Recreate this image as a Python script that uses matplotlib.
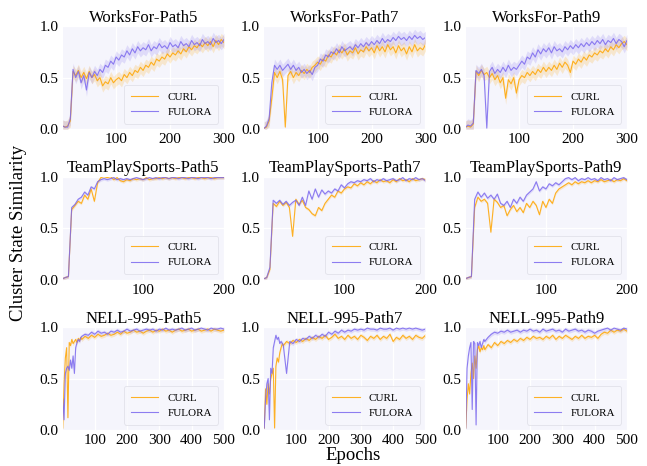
import numpy as np
import matplotlib.pyplot as plt

plt.rcParams['font.family'] = ['Liberation Serif', 'DejaVu Serif']

# epochs sampled from the curves
x_works = np.arange(0, 301, 5)
x_works[0] = 1
x_team = np.arange(0, 201, 4)
x_team[0] = 1
x_nell = np.concatenate([np.arange(1, 60, 4), np.arange(60, 501, 10)])

titles = ["WorksFor-Path5", "WorksFor-Path7", "WorksFor-Path9",
          "TeamPlaySports-Path5", "TeamPlaySports-Path7", "TeamPlaySports-Path9",
          "NELL-995-Path5", "NELL-995-Path7", "NELL-995-Path9"]

wf5_curl = [0.03, 0.02, 0.03, 0.08, 0.56, 0.52, 0.57, 0.50, 0.55, 0.49,
            0.56, 0.50, 0.53, 0.47, 0.50, 0.42, 0.46, 0.44, 0.50, 0.45,
            0.48, 0.50, 0.47, 0.53, 0.50, 0.55, 0.52, 0.57, 0.55, 0.60,
            0.57, 0.62, 0.60, 0.65, 0.62, 0.68, 0.66, 0.70, 0.68, 0.73,
            0.70, 0.74, 0.72, 0.76, 0.73, 0.78, 0.75, 0.80, 0.77, 0.81,
            0.79, 0.83, 0.80, 0.84, 0.81, 0.85, 0.80, 0.86, 0.82, 0.87,
            0.84]
wf5_fulora = [0.03, 0.02, 0.02, 0.10, 0.58, 0.50, 0.56, 0.45, 0.52, 0.38,
              0.55, 0.50, 0.56, 0.52, 0.58, 0.55, 0.62, 0.60, 0.66, 0.63,
              0.70, 0.67, 0.72, 0.70, 0.76, 0.72, 0.78, 0.74, 0.80, 0.76,
              0.79, 0.77, 0.82, 0.76, 0.80, 0.78, 0.83, 0.79, 0.81, 0.78,
              0.84, 0.80, 0.82, 0.79, 0.85, 0.81, 0.83, 0.80, 0.86, 0.82,
              0.84, 0.81, 0.87, 0.83, 0.85, 0.82, 0.88, 0.84, 0.86, 0.83,
              0.87]
wf7_curl = [0.01, 0.02, 0.08, 0.30, 0.55, 0.50, 0.56, 0.48, 0.02, 0.52,
            0.56, 0.50, 0.55, 0.52, 0.57, 0.54, 0.58, 0.55, 0.60, 0.62,
            0.65, 0.63, 0.68, 0.66, 0.72, 0.70, 0.75, 0.72, 0.77, 0.74,
            0.78, 0.72, 0.76, 0.74, 0.79, 0.73, 0.77, 0.75, 0.80, 0.76,
            0.79, 0.74, 0.81, 0.76, 0.80, 0.75, 0.82, 0.77, 0.80, 0.74,
            0.81, 0.76, 0.79, 0.73, 0.80, 0.75, 0.82, 0.76, 0.79, 0.77,
            0.82]
wf7_fulora = [0.01, 0.03, 0.10, 0.45, 0.62, 0.58, 0.62, 0.57, 0.60, 0.63,
              0.58, 0.62, 0.57, 0.60, 0.55, 0.58, 0.54, 0.57, 0.53, 0.60,
              0.62, 0.68, 0.66, 0.72, 0.70, 0.75, 0.73, 0.78, 0.74, 0.80,
              0.76, 0.78, 0.80, 0.77, 0.82, 0.79, 0.83, 0.80, 0.84, 0.81,
              0.85, 0.82, 0.86, 0.83, 0.88, 0.84, 0.87, 0.85, 0.89, 0.86,
              0.90, 0.87, 0.89, 0.86, 0.90, 0.87, 0.91, 0.88, 0.90, 0.87,
              0.89]
wf9_curl = [0.02, 0.03, 0.02, 0.05, 0.56, 0.52, 0.57, 0.53, 0.55, 0.50,
            0.54, 0.48, 0.52, 0.45, 0.50, 0.30, 0.48, 0.44, 0.50, 0.35,
            0.48, 0.52, 0.50, 0.55, 0.52, 0.56, 0.53, 0.58, 0.55, 0.60,
            0.56, 0.60, 0.57, 0.62, 0.58, 0.64, 0.60, 0.65, 0.62, 0.55,
            0.66, 0.63, 0.68, 0.65, 0.70, 0.67, 0.72, 0.70, 0.74, 0.72,
            0.76, 0.74, 0.78, 0.75, 0.80, 0.77, 0.82, 0.79, 0.83, 0.85,
            0.82]
wf9_fulora = [0.02, 0.04, 0.03, 0.06, 0.57, 0.54, 0.58, 0.52, 0.01, 0.56,
              0.60, 0.54, 0.58, 0.55, 0.60, 0.56, 0.62, 0.57, 0.60, 0.58,
              0.62, 0.66, 0.63, 0.70, 0.68, 0.74, 0.70, 0.77, 0.73, 0.78,
              0.75, 0.79, 0.74, 0.80, 0.76, 0.78, 0.75, 0.80, 0.77, 0.81,
              0.78, 0.82, 0.79, 0.83, 0.80, 0.84, 0.81, 0.85, 0.82, 0.86,
              0.83, 0.87, 0.82, 0.86, 0.84, 0.88, 0.83, 0.87, 0.85, 0.80,
              0.86]

tp5_curl = [0.01, 0.02, 0.03, 0.68, 0.72, 0.76, 0.74, 0.82, 0.78, 0.88,
            0.76, 0.94, 0.99, 1.00, 0.99, 1.00, 0.97, 0.99, 0.96, 0.95,
            0.97, 0.96, 0.98, 0.97, 0.98, 0.97, 0.99, 0.97, 0.98, 0.98,
            0.99, 0.98, 0.99, 0.98, 0.99, 0.98, 0.99, 0.99, 0.98, 0.99,
            0.99, 0.98, 0.99, 0.99, 0.98, 0.99, 0.99, 0.98, 0.99, 0.99,
            0.99]
tp5_fulora = [0.01, 0.02, 0.03, 0.70, 0.73, 0.78, 0.80, 0.85, 0.82, 0.90,
              0.88, 0.95, 0.97, 0.98, 0.97, 0.98, 0.99, 0.97, 0.98, 0.97,
              0.98, 0.97, 0.98, 0.99, 0.98, 0.97, 0.98, 0.99, 0.98, 0.99,
              0.98, 0.99, 0.99, 0.98, 0.99, 0.99, 0.98, 0.99, 0.99, 0.98,
              0.99, 0.99, 0.98, 0.99, 0.99, 0.99, 0.98, 0.99, 0.99, 0.99,
              0.99]
tp7_curl = [0.01, 0.02, 0.10, 0.74, 0.71, 0.76, 0.72, 0.75, 0.70, 0.42,
            0.78, 0.73, 0.77, 0.70, 0.68, 0.64, 0.62, 0.70, 0.67, 0.74,
            0.78, 0.82, 0.80, 0.86, 0.84, 0.88, 0.90, 0.89, 0.93, 0.91,
            0.94, 0.92, 0.95, 0.93, 0.96, 0.94, 0.97, 0.95, 0.96, 0.94,
            0.97, 0.95, 0.98, 0.96, 0.97, 0.95, 0.98, 0.96, 0.97, 0.98,
            0.97]
tp7_fulora = [0.01, 0.02, 0.12, 0.77, 0.74, 0.77, 0.73, 0.76, 0.72, 0.75,
              0.77, 0.72, 0.80, 0.72, 0.86, 0.78, 0.88, 0.80, 0.87, 0.83,
              0.86, 0.84, 0.88, 0.86, 0.92, 0.89, 0.93, 0.95, 0.94, 0.96,
              0.95, 0.97, 0.96, 0.98, 0.95, 0.97, 0.96, 0.98, 0.96, 0.97,
              0.98, 0.96, 0.97, 0.99, 0.96, 0.98, 0.97, 0.99, 0.97, 0.98,
              0.96]
tp9_curl = [0.01, 0.02, 0.03, 0.70, 0.80, 0.76, 0.78, 0.74, 0.46, 0.78,
            0.75, 0.70, 0.72, 0.62, 0.68, 0.72, 0.66, 0.70, 0.65, 0.74,
            0.70, 0.76, 0.72, 0.63, 0.76, 0.70, 0.78, 0.74, 0.84, 0.88,
            0.90, 0.92, 0.94, 0.92, 0.95, 0.93, 0.95, 0.94, 0.96, 0.94,
            0.96, 0.95, 0.97, 0.95, 0.96, 0.97, 0.95, 0.97, 0.96, 0.98,
            0.96]
tp9_fulora = [0.01, 0.02, 0.03, 0.78, 0.85, 0.80, 0.84, 0.79, 0.82, 0.78,
              0.83, 0.74, 0.72, 0.76, 0.70, 0.78, 0.74, 0.80, 0.76, 0.82,
              0.85, 0.88, 0.95, 0.86, 0.90, 0.88, 0.93, 0.91, 0.94, 0.92,
              0.95, 0.98, 0.99, 0.97, 0.99, 0.96, 0.98, 0.97, 0.99, 0.97,
              0.98, 0.96, 0.99, 0.97, 0.98, 0.96, 0.99, 0.97, 0.98, 0.99,
              0.97]

nell5_curl = [0.02, 0.45, 0.70, 0.80, 0.12, 0.85, 0.82, 0.88, 0.84, 0.86,
              0.88, 0.85, 0.89, 0.87, 0.90,
              0.88, 0.91, 0.89, 0.92, 0.90, 0.93, 0.91, 0.92, 0.94, 0.92,
              0.93, 0.95, 0.93, 0.96, 0.94, 0.95, 0.97, 0.95, 0.96, 0.94,
              0.96, 0.97, 0.95, 0.97, 0.96, 0.98, 0.96, 0.97, 0.95, 0.97,
              0.98, 0.96, 0.97, 0.98, 0.96, 0.97, 0.98, 0.96, 0.97, 0.98,
              0.96, 0.98, 0.97, 0.96, 0.97]
nell5_fulora = [0.30, 0.10, 0.55, 0.60, 0.62, 0.58, 0.68, 0.60, 0.72, 0.55,
                0.80, 0.85, 0.88, 0.86, 0.90,
                0.91, 0.93, 0.92, 0.95, 0.93, 0.96, 0.94, 0.95, 0.93, 0.96,
                0.95, 0.97, 0.95, 0.96, 0.98, 0.96, 0.97, 0.98, 0.96, 0.97,
                0.98, 0.97, 0.98, 0.96, 0.98, 0.97, 0.99, 0.97, 0.98, 0.97,
                0.98, 0.99, 0.97, 0.98, 0.99, 0.97, 0.98, 0.99, 0.98, 0.97,
                0.99, 0.98, 0.98, 0.99, 0.98]
nell7_curl = [0.02, 0.40, 0.25, 0.45, 0.35, 0.50, 0.55, 0.60, 0.02, 0.62,
              0.70, 0.66, 0.75, 0.80, 0.84,
              0.82, 0.86, 0.84, 0.87, 0.85, 0.88, 0.86, 0.89, 0.87, 0.90,
              0.88, 0.91, 0.89, 0.92, 0.88, 0.90, 0.93, 0.89, 0.91, 0.88,
              0.92, 0.89, 0.91, 0.88, 0.92, 0.90, 0.87, 0.91, 0.89, 0.92,
              0.88, 0.91, 0.89, 0.93, 0.86, 0.90, 0.88, 0.92, 0.89, 0.91,
              0.88, 0.92, 0.90, 0.89, 0.92]
nell7_fulora = [0.02, 0.30, 0.45, 0.50, 0.10, 0.60, 0.55, 0.80, 0.86, 0.92,
                0.88, 0.90, 0.84, 0.86, 0.84,
                0.82, 0.55, 0.86, 0.84, 0.88, 0.86, 0.89, 0.88, 0.91, 0.89,
                0.92, 0.90, 0.93, 0.91, 0.95, 0.93, 0.96, 0.94, 0.97, 0.95,
                0.97, 0.96, 0.98, 0.97, 0.98, 0.97, 0.99, 0.98, 0.98, 0.97,
                0.99, 0.98, 0.98, 0.99, 0.97, 0.99, 0.98, 0.99, 0.98, 0.99,
                0.98, 0.99, 0.98, 0.97, 0.98]
nell9_curl = [0.02, 0.30, 0.45, 0.35, 0.55, 0.65, 0.50, 0.72, 0.60, 0.78,
              0.82, 0.76, 0.80, 0.78, 0.82,
              0.78, 0.83, 0.80, 0.85, 0.82, 0.86, 0.84, 0.87, 0.85, 0.88,
              0.86, 0.89, 0.87, 0.90, 0.88, 0.91, 0.89, 0.90, 0.88, 0.91,
              0.89, 0.92, 0.88, 0.91, 0.89, 0.92, 0.90, 0.88, 0.91, 0.89,
              0.92, 0.89, 0.91, 0.90, 0.92, 0.89, 0.93, 0.95, 0.94, 0.97,
              0.95, 0.97, 0.96, 0.98, 0.96]
nell9_fulora = [0.02, 0.60, 0.72, 0.80, 0.85, 0.20, 0.86, 0.84, 0.05, 0.85,
                0.82, 0.86, 0.80, 0.84, 0.88,
                0.86, 0.90, 0.93, 0.95, 0.94, 0.96, 0.95, 0.97, 0.95, 0.96,
                0.97, 0.95, 0.97, 0.96, 0.98, 0.96, 0.97, 0.95, 0.98, 0.96,
                0.97, 0.98, 0.96, 0.97, 0.95, 0.98, 0.96, 0.97, 0.98, 0.96,
                0.97, 0.95, 0.97, 0.96, 0.94, 0.96, 0.97, 0.98, 0.99, 0.97,
                0.99, 0.98, 0.97, 0.99, 0.98]

# half width of the shaded band per dataset
spread_works = 0.06
spread_team = 0.015
spread_nell = 0.02

panels = [
    (x_works, wf5_curl, wf5_fulora, spread_works, [100, 200, 300]),
    (x_works, wf7_curl, wf7_fulora, spread_works, [100, 200, 300]),
    (x_works, wf9_curl, wf9_fulora, spread_works, [100, 200, 300]),
    (x_team, tp5_curl, tp5_fulora, spread_team, [100, 200]),
    (x_team, tp7_curl, tp7_fulora, spread_team, [100, 200]),
    (x_team, tp9_curl, tp9_fulora, spread_team, [100, 200]),
    (x_nell, nell5_curl, nell5_fulora, spread_nell, [100, 200, 300, 400, 500]),
    (x_nell, nell7_curl, nell7_fulora, spread_nell, [100, 200, 300, 400, 500]),
    (x_nell, nell9_curl, nell9_fulora, spread_nell, [100, 200, 300, 400, 500]),
]

c_curl = "#FFA500"
c_fulora = "#7B68EE"

fig, axes = plt.subplots(3, 3, figsize=(6.47, 4.66), dpi=100)
fig.subplots_adjust(left=0.097, right=0.969, bottom=0.077, top=0.944,
                    wspace=0.25, hspace=0.46)

for ax, title, (x, curl, fulora, s, xt) in zip(axes.flat, titles, panels):
    ax.set_facecolor("#F5F5FC")
    ax.grid(True, color="white", lw=1.0)
    ax.set_axisbelow(True)
    for sp in ax.spines.values():
        sp.set_visible(False)
    for y, c, lab in [(curl, c_curl, "CURL"), (fulora, c_fulora, "FULORA")]:
        y = np.array(y)
        ax.fill_between(x, np.clip(y - s, 0, 1), np.clip(y + s, 0, 1),
                        color=c, alpha=0.18, lw=0)
        ax.plot(x, y, color=c, lw=0.8, alpha=0.85, label=lab)
    ax.set_xlim(x[0], x[-1])
    ax.set_ylim(0, 1.0)
    ax.set_xticks(xt)
    ax.set_yticks([0.0, 0.5, 1.0])
    ax.set_yticklabels(["0.0", "0.5", "1.0"])
    ax.tick_params(length=0, labelsize=11, pad=3)
    ax.set_title(title, fontsize=12, pad=3)
    leg = ax.legend(loc="lower right", fontsize=8, frameon=True,
                    handlelength=2.5, borderpad=0.6, labelspacing=0.5)
    leg.get_frame().set_facecolor("#F7F7FC")
    leg.get_frame().set_edgecolor("#DDDDE5")
    leg.get_frame().set_linewidth(0.6)

fig.text(0.028, 0.5, "Cluster State Similarity", rotation=90,
         ha="center", va="center", fontsize=13.5)
fig.text(0.545, 0.022, "Epochs", ha="center", va="center", fontsize=13.5)

fig.savefig("out.png", dpi=100)
